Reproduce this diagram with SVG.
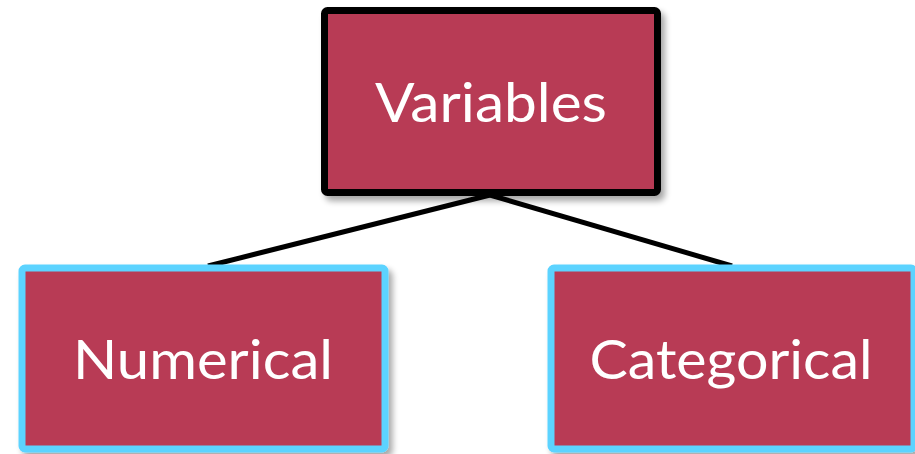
<svg xmlns="http://www.w3.org/2000/svg" width="915" height="454" viewBox="0 0 915 454">
  <defs>
    <filter id="shadow" x="-10%" y="-10%" width="130%" height="130%">
      <feGaussianBlur in="SourceAlpha" stdDeviation="3"/>
      <feOffset dx="4" dy="5" result="b"/>
      <feComponentTransfer><feFuncA type="linear" slope="0.35"/></feComponentTransfer>
      <feMerge><feMergeNode/><feMergeNode in="SourceGraphic"/></feMerge>
    </filter>
  </defs>
  <style>
    .box { fill: #B83A54; stroke-width: 7; filter: url(#shadow); }
    .root { stroke: #000000; }
    .leaf { stroke: #5CD3FF; }
    .label { fill: #FFFFFF; font-family: Lato, "Open Sans", sans-serif; font-size: 54px; text-anchor: middle; }
    .edge { stroke: #000000; stroke-width: 5; fill: none; }
  </style>
  <rect width="915" height="454" fill="#FFFFFF"/>
  <g id="connectors">
    <line class="edge" x1="490" y1="195" x2="208" y2="266"/>
    <line class="edge" x1="490" y1="195" x2="732" y2="266"/>
  </g>
  <g id="variables">
    <rect class="box root" x="324.5" y="10.5" width="333" height="182" rx="3"/>
    <text class="label" x="491" y="122" textLength="232" lengthAdjust="spacingAndGlyphs">Variables</text>
  </g>
  <g id="numerical">
    <rect class="box leaf" x="22" y="268" width="363" height="181" rx="3"/>
    <text class="label" x="203" y="379" textLength="260" lengthAdjust="spacingAndGlyphs">Numerical</text>
  </g>
  <g id="categorical">
    <rect class="box leaf" x="551" y="268" width="363" height="181" rx="3"/>
    <text class="label" x="731" y="379" textLength="283" lengthAdjust="spacingAndGlyphs">Categorical</text>
  </g>
</svg>
